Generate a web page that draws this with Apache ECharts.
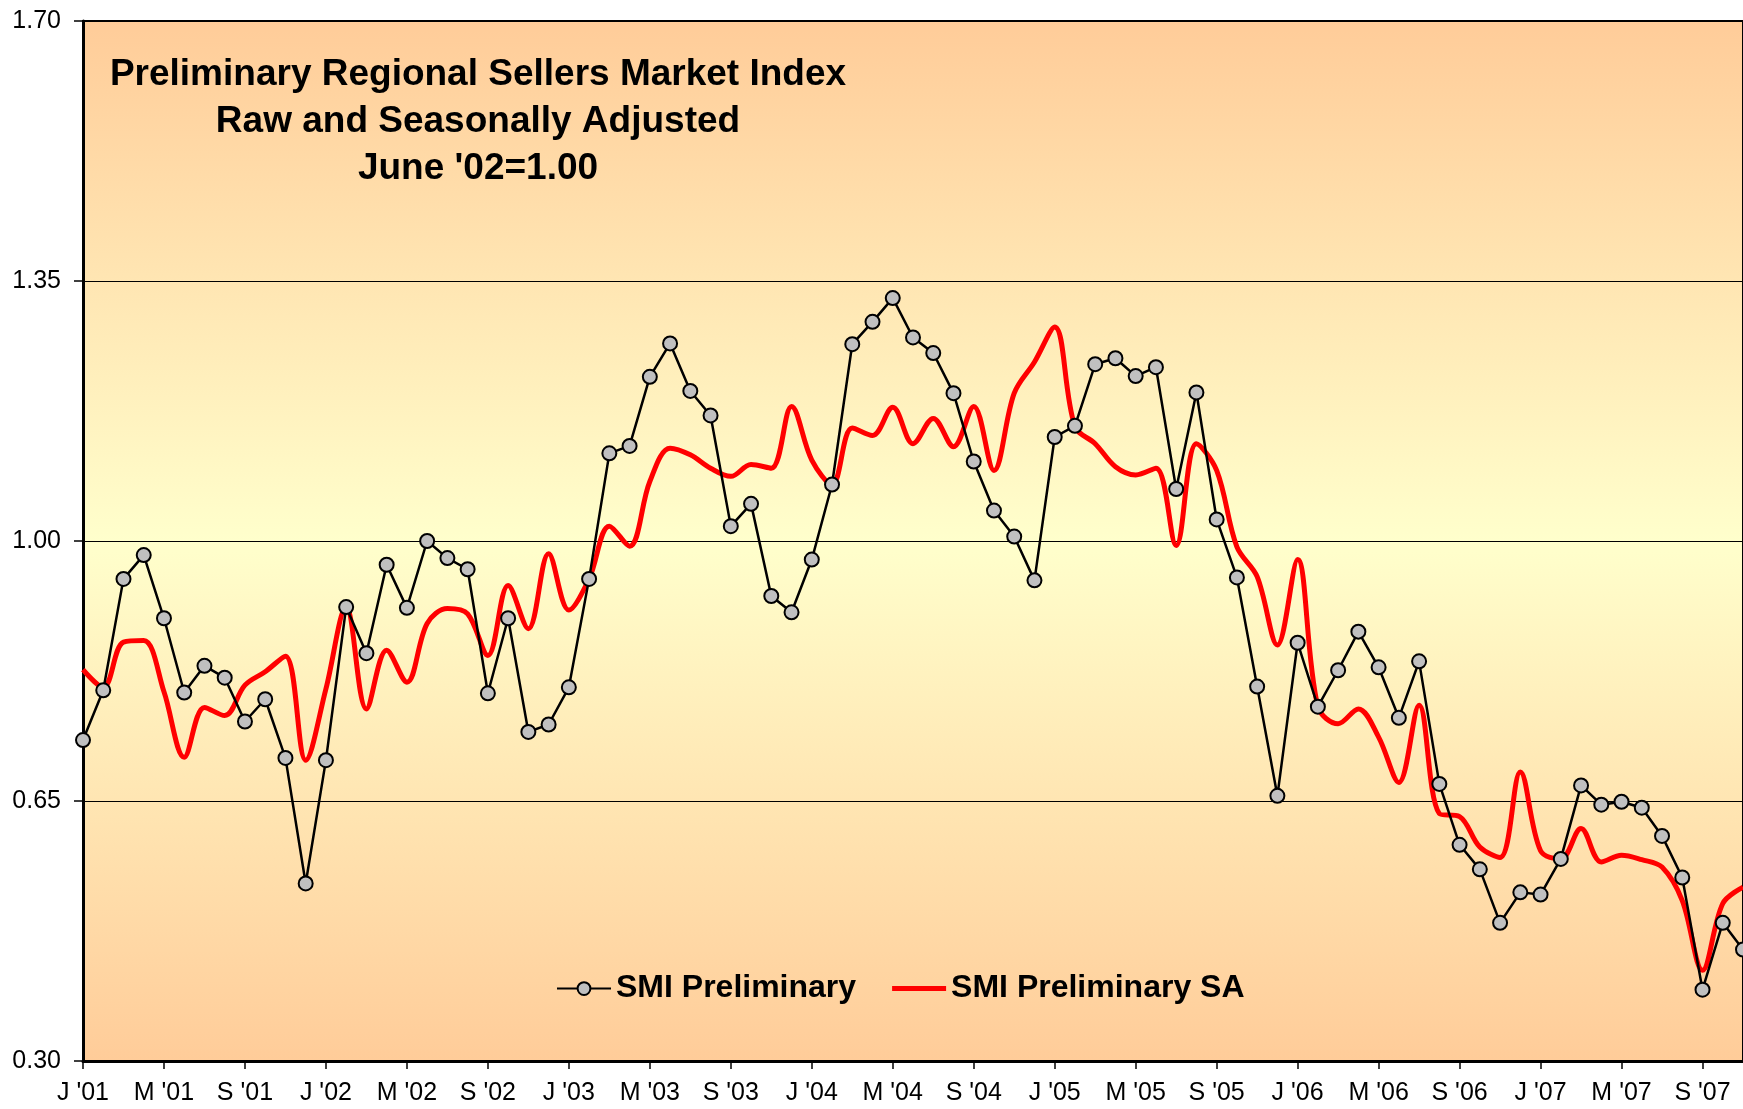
<!doctype html>
<html>
<head>
    <title>Sellers Market Index</title>
    <script src="https://cdn.jsdelivr.net/npm/echarts@6/dist/echarts.min.js"></script>
    <style>
        html, body { margin: 0; padding: 0; background: #fff; overflow: hidden; }
    </style>
</head>
<body>
<div id="chart" style="width: 1743px; height: 1109px;"></div>
<script type="text/javascript">

    // month initials and years used for the monthly categories (J '01 ... N '07)
    var monthInitials = ['J', 'F', 'M', 'A', 'M', 'J', 'J', 'A', 'S', 'O', 'N', 'D'];
    var years = ['01', '02', '03', '04', '05', '06', '07'];

    // SMI Preliminary (raw), one value per month from Jan '01
    var smiRaw = [
        0.732, 0.799, 0.949, 0.981, 0.896, 0.796, 0.832, 0.816, 0.757, 0.787, 0.708, 0.539,   // 2001
        0.705, 0.911, 0.849, 0.968, 0.910, 1.000, 0.977, 0.962, 0.795, 0.896, 0.743, 0.753,   // 2002
        0.803, 0.949, 1.118, 1.128, 1.221, 1.266, 1.202, 1.169, 1.020, 1.050, 0.926, 0.904,   // 2003
        0.975, 1.076, 1.265, 1.295, 1.327, 1.274, 1.253, 1.199, 1.107, 1.041, 1.006, 0.947,   // 2004
        1.140, 1.155, 1.238, 1.246, 1.222, 1.234, 1.070, 1.200, 1.029, 0.951, 0.804, 0.657,   // 2005
        0.863, 0.777, 0.826, 0.878, 0.830, 0.762, 0.838, 0.673, 0.591, 0.558, 0.486, 0.527,   // 2006
        0.524, 0.572, 0.671, 0.645, 0.649, 0.641, 0.603, 0.547, 0.396, 0.486, 0.450           // 2007
    ];

    // SMI Preliminary SA (seasonally adjusted)
    var smiSA = [
        0.827, 0.803, 0.864, 0.866, 0.797, 0.709, 0.776, 0.765, 0.806, 0.824, 0.845, 0.705,
        0.801, 0.911, 0.774, 0.853, 0.810, 0.889, 0.909, 0.902, 0.846, 0.940, 0.882, 0.983,
        0.907, 0.949, 1.020, 0.993, 1.080, 1.125, 1.116, 1.098, 1.087, 1.103, 1.098, 1.181,
        1.109, 1.076, 1.152, 1.142, 1.180, 1.131, 1.165, 1.127, 1.181, 1.095, 1.199, 1.241,
        1.288, 1.154, 1.131, 1.100, 1.089, 1.098, 0.994, 1.131, 1.095, 0.992, 0.952, 0.860,
        0.975, 0.777, 0.754, 0.774, 0.736, 0.675, 0.779, 0.633, 0.629, 0.588, 0.574, 0.689,
        0.583, 0.572, 0.613, 0.568, 0.577, 0.571, 0.561, 0.516, 0.422, 0.512, 0.534
    ];

    var titleLines = ['Preliminary Regional Sellers Market Index', 'Raw and Seasonally Adjusted', "June '02=1.00"];
    var seriesNames = ['SMI Preliminary', 'SMI Preliminary SA'];

    var categories = [];
    years.forEach(function (y) {
        monthInitials.forEach(function (m) {
            categories.push(m + " '" + y);
        });
    });
    categories = categories.slice(0, smiRaw.length);

    var font = 'Liberation Sans, Arial, sans-serif';

    var myChart = echarts.init(document.getElementById('chart'), null, {renderer: 'canvas'});

    var option = {
        animation: false,
        backgroundColor: '#ffffff',
        title: {
            text: titleLines.join('\n'),
            left: 478,
            top: 51,
            padding: 0,
            textAlign: 'center',
            textStyle: {
                fontFamily: font,
                fontSize: 37,
                fontWeight: 'bold',
                lineHeight: 47,
                color: '#000'
            }
        },
        legend: {
            data: [
                {name: seriesNames[0]},
                // plain red bar, no marker, for the SA line
                {name: seriesNames[1], icon: 'path://M0,0 L54,0 L54,5 L0,5 Z'}
            ],
            left: 556,
            top: 961,
            padding: 0,
            itemWidth: 54,
            itemHeight: 16,
            itemGap: 36,
            textStyle: {
                fontFamily: font,
                fontSize: 32,
                fontWeight: 'bold',
                lineHeight: 36,
                color: '#000'
            }
        },
        grid: {
            left: 83,
            right: 0,
            top: 21,
            bottom: 48,
            outerBoundsMode: 'none',
            show: true,
            borderColor: '#000',
            borderWidth: 2,
            backgroundColor: {
                type: 'linear', x: 0, y: 0, x2: 0, y2: 1,
                colorStops: [
                    {offset: 0, color: '#FFCC99'},
                    {offset: 0.5, color: '#FFFFCC'},
                    {offset: 1, color: '#FFCC99'}
                ]
            }
        },
        xAxis: {
            type: 'category',
            data: categories,
            boundaryGap: false,
            axisLine: {lineStyle: {color: '#000', width: 3}},
            axisTick: {interval: 3, length: 8, lineStyle: {color: '#000', width: 1.5}},
            axisLabel: {
                interval: 3,
                margin: 11,
                fontFamily: font,
                fontSize: 25,
                color: '#000'
            },
            splitLine: {show: false}
        },
        yAxis: {
            type: 'value',
            min: 0.3,
            max: 1.7,
            interval: 0.35,
            axisLine: {show: true, lineStyle: {color: '#000', width: 3}},
            axisTick: {show: true, length: 9, lineStyle: {color: '#000', width: 1.5}},
            axisLabel: {
                margin: 22,
                fontFamily: font,
                fontSize: 25,
                color: '#000',
                formatter: function (v) { return v.toFixed(2); }
            },
            splitLine: {show: true, lineStyle: {color: '#000', width: 1}}
        },
        series: [
            {
                name: seriesNames[0],
                type: 'line',
                data: smiRaw,
                z: 3,
                symbol: 'circle',
                symbolSize: 14,
                showAllSymbol: true,
                itemStyle: {color: '#C0C0C0', borderColor: '#000', borderWidth: 2},
                lineStyle: {color: '#000', width: 2.5}
            },
            {
                name: seriesNames[1],
                type: 'line',
                data: smiSA,
                z: 2,
                smooth: 0.35,
                symbol: 'none',
                itemStyle: {color: '#FF0000'},
                lineStyle: {color: '#FF0000', width: 5}
            }
        ]
    };

    myChart.setOption(option);

</script>
</body>
</html>
